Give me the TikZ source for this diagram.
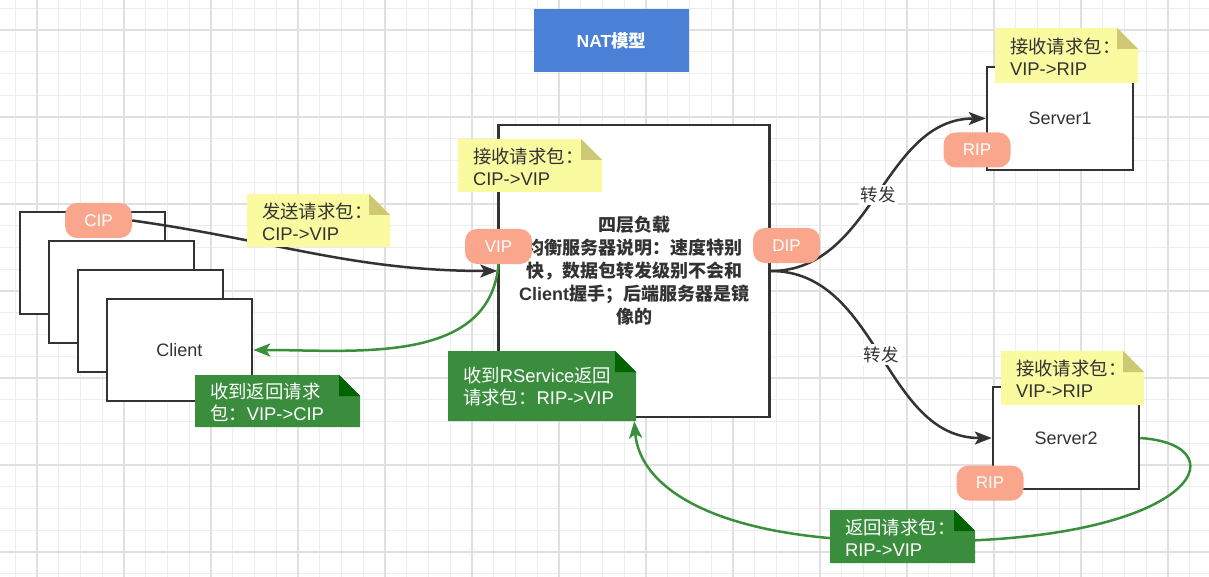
\documentclass[tikz,border=0pt]{standalone}
\usepackage{fontspec}
\setmainfont{Liberation Sans}
\newfontfamily\cjk{Noto Sans CJK SC}
\usetikzlibrary{arrows.meta}
\pgfdeclarelayer{gridl}
\pgfdeclarelayer{boxl}
\pgfdeclarelayer{linel}
\pgfdeclarelayer{frontl}
\pgfsetlayers{gridl,boxl,linel,main,frontl}
\definecolor{ink}{HTML}{333333}
\definecolor{gridminor}{HTML}{EDEDED}
\definecolor{gridmajor}{HTML}{E0E0E0}
\definecolor{pillc}{HTML}{F9A68D}
\definecolor{notey}{HTML}{FAFAA0}
\definecolor{foldy}{HTML}{CCC874}
\definecolor{noteg}{HTML}{3A8D3C}
\definecolor{foldg}{HTML}{006400}
\definecolor{lineg}{HTML}{3A8F3A}
\definecolor{titleb}{HTML}{4A80D6}
\newcommand\zh[1]{{\cjk #1}}
\newcommand\fs{\fontsize{17.5pt}{21pt}\selectfont}
\newcommand\nfs{\fontsize{18.4pt}{22pt}\selectfont}
% #1 fill #2 fold #3 text colour #4 name #5 x #6 y #7 w #8 h #9 text
\newcommand\drawnote[9]{%
  \fill[#1] (#5,#6) -- ({#5+#7-21},#6) -- ({#5+#7},{#6+21}) -- ({#5+#7},{#6+#8}) -- (#5,{#6+#8}) -- cycle;
  \fill[#2] ({#5+#7-21},#6) -- ({#5+#7-21},{#6+21}) -- ({#5+#7},{#6+21}) -- cycle;
  \node[minimum width=#7pt, minimum height=#8pt, inner sep=0pt] (#4) at ({#5+#7/2},{#6+#8/2}) {};
  \node[notetext, text=#3, anchor=west] (#4t) at ([xshift=15pt,yshift=-1pt]#4.west) {#9};
}
\tikzset{
  boxst/.style={draw=ink, line width=2.5pt, fill=white, inner sep=0pt},
  pillst/.style={fill=pillc, text=white, rounded corners=12pt, minimum width=67pt, minimum height=35pt, inner sep=0pt, font=\fontsize{17pt}{21pt}\selectfont},
  notetext/.style={font=\nfs, align=left, inner sep=0pt},
  blk/.style={draw=ink, line width=2.5pt, -{Stealth[length=17pt,width=13pt,inset=4pt]}},
  grn/.style={draw=lineg, line width=2.5pt, -{Stealth[length=17pt,width=13pt,inset=4pt]}},
  lbl/.style={fill=white, inner sep=2pt, text=ink, font=\fs},
}
\begin{document}
\begin{tikzpicture}[x=1pt,y=-1pt]
\useasboundingbox (0,0) rectangle (1209,577);
\begin{pgfonlayer}{gridl}
\fill[white] (0,0) rectangle (1209,577);
\foreach \i in {0,...,55} \draw[gridminor, line width=1pt] ({15.25+21.75*\i},0) -- ++(0,577);
\foreach \i in {0,...,26} \draw[gridminor, line width=1pt] (0,{8.25+21.75*\i}) -- ++(1209,0);
\foreach \i in {0,...,13} \draw[gridmajor, line width=1.3pt] ({37+87*\i},0) -- ++(0,577);
\foreach \i in {0,...,6} \draw[gridmajor, line width=1.3pt] (0,{30+87*\i}) -- ++(1209,0);
\end{pgfonlayer}

\begin{pgfonlayer}{boxl}
% title
\node[fill=titleb, text=white, minimum width=155pt, minimum height=63pt, inner sep=0pt,
      font=\bfseries\fontsize{17.5pt}{21pt}\selectfont] (title) at (611.5,40.5) {NAT\zh{模型}};
% clients
\node[boxst, minimum width=145pt, minimum height=102pt] (c1) at (92.5,263) {};
\node[boxst, minimum width=145pt, minimum height=102pt] (c2) at (121.5,292) {};
\node[boxst, minimum width=145pt, minimum height=102pt] (c3) at (150.5,321) {};
\node[boxst, minimum width=145pt, minimum height=102pt, text=ink, font=\fontsize{18pt}{21pt}\selectfont] (c4) at (179.5,350) {Client};
% load balancer
\node[boxst, minimum width=271pt, minimum height=292pt, text=ink, align=center,
      font=\bfseries\fontsize{18pt}{23pt}\selectfont] (lb) at (634,271)
  {\zh{四层负载}\\\zh{均衡服务器说明：速度特别}\\\zh{快，数据包转发级别不会和}\\Client\zh{握手；后端服务器是镜}\\\zh{像的}};
% servers
\node[boxst, minimum width=146pt, minimum height=103pt, text=ink, font=\fontsize{18pt}{21pt}\selectfont] (s1) at (1060,118.5) {Server1};
\node[boxst, minimum width=146pt, minimum height=102pt, text=ink, font=\fontsize{18pt}{21pt}\selectfont] (s2) at (1066,438) {Server2};
\end{pgfonlayer}

% pills (front layer)
\begin{pgfonlayer}{frontl}
\node[pillst] (cip) at (98.5,220.5) {CIP};
\node[pillst] (vip) at (498.5,246.5) {VIP};
\node[pillst] (dip) at (786.5,245.5) {DIP};
\node[pillst] (rip1) at (977,150) {RIP};
\node[pillst] (rip2) at (990,483) {RIP};
\end{pgfonlayer}

% notes (main layer)
\drawnote{notey}{foldy}{ink}{n1}{247}{194}{143}{53}{\zh{发送请求包：}\\CIP->VIP}
\drawnote{notey}{foldy}{ink}{n2}{458}{139}{144}{53}{\zh{接收请求包：}\\CIP->VIP}
\drawnote{notey}{foldy}{ink}{n3}{995}{28}{143}{55}{\zh{接收请求包：}\\VIP->RIP}
\drawnote{notey}{foldy}{ink}{n4}{1001}{351}{143}{54}{\zh{接收请求包：}\\VIP->RIP}
\drawnote{noteg}{foldg}{white}{g1}{195}{375}{165}{52}{\zh{收到返回请求}\\\zh{包：}VIP->CIP}
\drawnote{noteg}{foldg}{white}{g2}{448}{351}{188}{70}{\zh{收到}RService\zh{返回}\\\zh{请求包：}RIP->VIP}
\drawnote{noteg}{foldg}{white}{g3}{830}{510}{145}{53}{\zh{返回请求包：}\\RIP->VIP}

% connectors
\begin{pgfonlayer}{linel}
\draw[blk] (cip.east) to[out=-8,in=180] (lb.west);
\draw[grn] (vip.south) to[out=-95,in=0] (c4.east);
\draw[blk] (lb.east) to[out=0,in=180] node[lbl] {\zh{转发}} (s1.west);
\draw[blk] (lb.east) to[out=0,in=180] node[lbl] {\zh{转发}} (s2.west);
\coordinate (rsvEnd) at ([xshift=-2pt]g2.south east);
\draw[grn] (s2.east) .. controls (1245,445) and (1195,548) .. (900,541)
                     .. controls (720,541) and (640,490) .. (rsvEnd);
\end{pgfonlayer}
\end{tikzpicture}
\end{document}
